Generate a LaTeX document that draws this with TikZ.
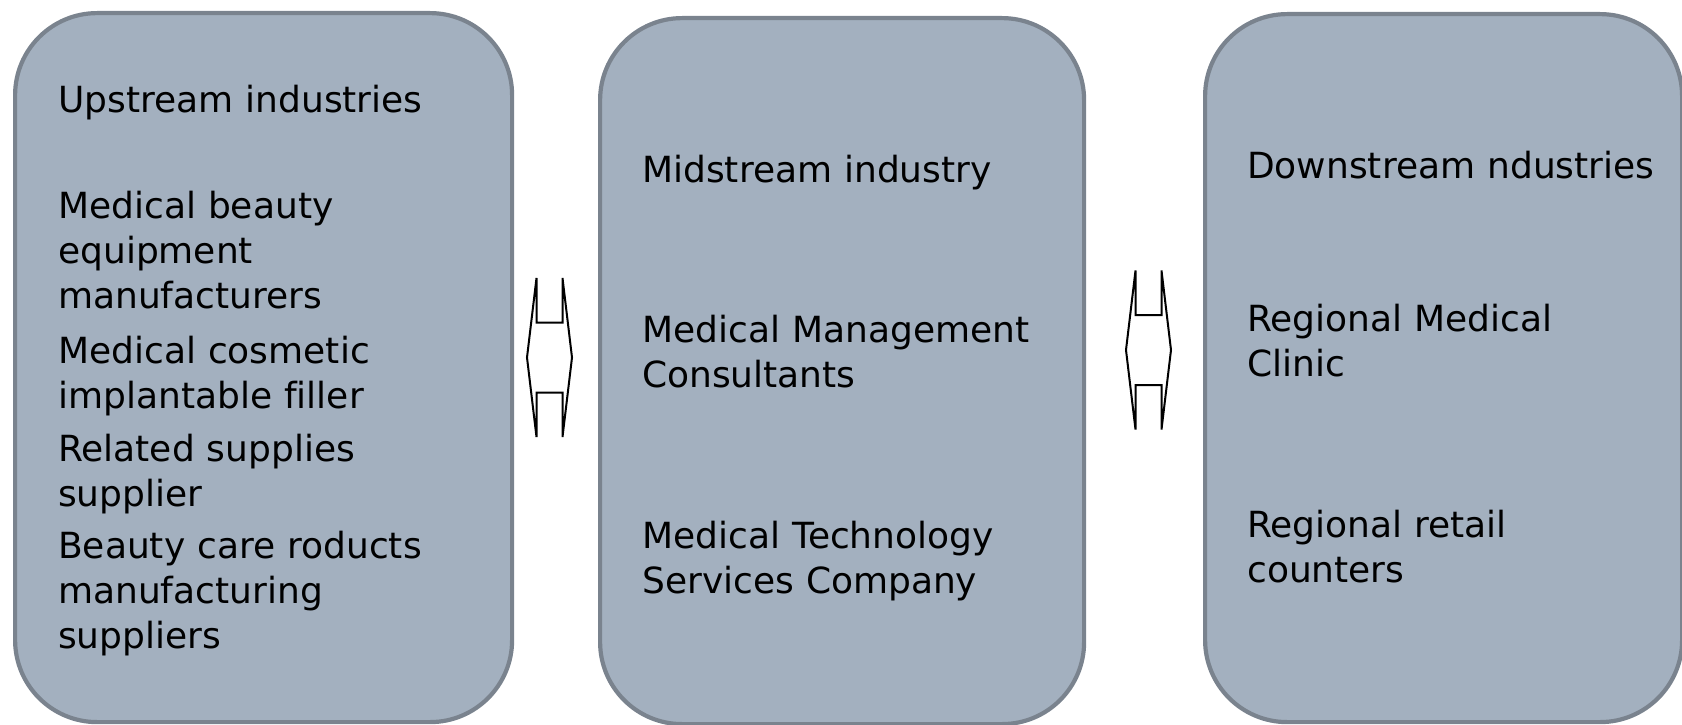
\documentclass[tikz,border=0pt]{standalone}
\usepackage{fontspec}
\setmainfont{DejaVu Sans}[Ligatures=NoCommon]
\definecolor{boxfill}{RGB}{163,176,191}
\definecolor{boxline}{RGB}{122,131,142}
\tikzset{
  panel/.style={draw=boxline, line width=4.2pt, fill=boxfill, rounded corners=82pt,
    anchor=north west, inner sep=0pt},
  txt/.style={anchor=base west, inner sep=0pt, text width=470pt, align=left,
    font=\fontsize{36}{45}\selectfont},
  dblarrow/.style={draw=black, fill=white, line width=2pt, line join=miter},
  pics/lrarrow/.style={code={
    \draw[dblarrow] (-22.5,0) -- (-13,-79.5) -- (-13,-35) -- (13,-35) -- (13,-79.5)
      -- (22.5,0) -- (13,79.5) -- (13,35) -- (-13,35) -- (-13,79.5) -- cycle;
  }}
}
\begin{document}
\begin{tikzpicture}[x=1pt,y=-1pt]
\useasboundingbox (0,0) rectangle (1682,725);

% three stages of the chain
\node[panel, minimum width=497pt, minimum height=709pt] (up) at (13,11) {};
\node[panel, minimum width=484pt, minimum height=706pt] (mid) at (598,16) {};
\node[panel, minimum width=477pt, minimum height=708pt] (down) at (1203,12) {};

% two-way links between stages
\pic (link1) at (549.5,357.5) {lrarrow};
\pic (link2) at (1148.5,350) {lrarrow};

% upstream
\node[txt] (u0) at (58,112) {Upstream industries};
\node[txt] (u1) at (58,218) {Medical beauty\\equipment\\manufacturers};
\node[txt] (u2) at (58,363) {Medical cosmetic\\implantable filler};
\node[txt] (u3) at (58,461) {Related supplies\\supplier};
\node[txt] (u4) at (58,558) {Beauty care roducts\\manufacturing\\suppliers};

% midstream
\node[txt] (m0) at (642,182) {Midstream industry};
\node[txt] (m1) at (642,342) {Medical Management\\Consultants};
\node[txt] (m2) at (642,548) {Medical Technology\\Services Company};

% downstream
\node[txt] (d0) at (1247,178) {Downstream ndustries};
\node[txt] (d1) at (1247,331) {Regional Medical\\Clinic};
\node[txt] (d2) at (1247,537) {Regional retail\\counters};
\end{tikzpicture}
\end{document}
